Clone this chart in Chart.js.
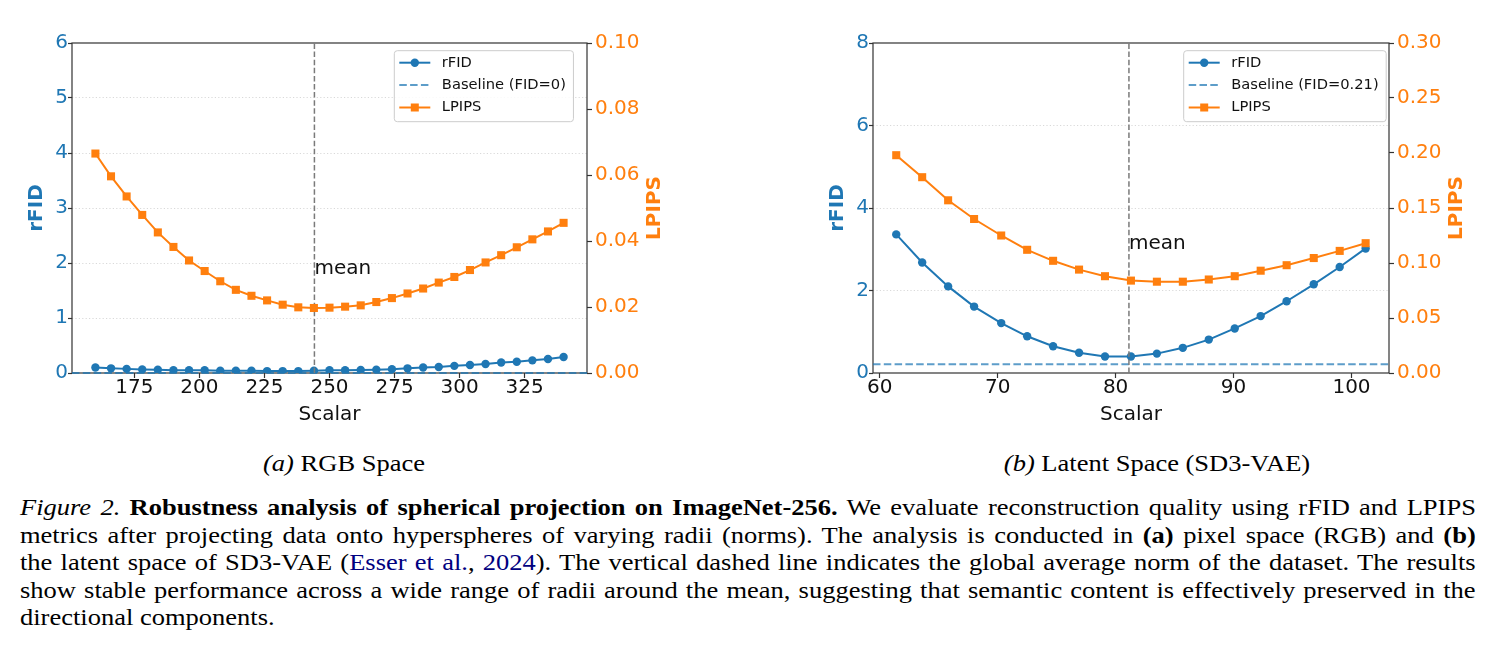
<!DOCTYPE html>
<html>
<head>
<meta charset="utf-8">
<script src="https://cdn.jsdelivr.net/npm/chart.js@4"></script>
<style>
html,body{margin:0;padding:0;background:#fff;}
body{width:1493px;height:665px;position:relative;overflow:hidden;}
canvas{position:absolute;top:0;}
#c1{left:0;}
#c2{left:801px;}
.sub{position:absolute;top:449.5px;font-family:'Liberation Serif',serif;font-size:23px;line-height:27.5px;white-space:nowrap;color:#000;transform-origin:center top;transform:translateX(-50%) scaleX(1.152);}
#cap{position:absolute;left:20px;top:494px;width:1263.9px;font-family:'Liberation Serif',serif;font-size:23px;line-height:27.5px;color:#000;transform-origin:left top;transform:scaleX(1.152);}
#cap .ln{white-space:nowrap;height:27.5px;}
#cap .ln > span{display:inline-block;}
.cite{color:#000080;}
</style>
</head>
<body>
<canvas id="c1" width="747" height="440"></canvas>
<canvas id="c2" width="692" height="440"></canvas>
<div class="sub" style="left:344px"><i>(a)</i> RGB Space</div>
<div class="sub" style="left:1157px"><i>(b)</i> Latent Space (SD3-VAE)</div>
<div id="cap">
<div class="ln"><span><i>Figure 2.</i> <b>Robustness analysis of spherical projection on ImageNet-256.</b> We evaluate reconstruction quality using rFID and LPIPS</span></div>
<div class="ln"><span>metrics after projecting data onto hyperspheres of varying radii (norms). The analysis is conducted in <b>(a)</b> pixel space (RGB) and <b>(b)</b></span></div>
<div class="ln"><span>the latent space of SD3-VAE (<span class="cite">Esser et al.</span>, <span class="cite">2024</span>). The vertical dashed line indicates the global average norm of the dataset. The results</span></div>
<div class="ln"><span>show stable performance across a wide range of radii around the mean, suggesting that semantic content is effectively preserved in the</span></div>
<div class="ln last"><span>directional components.</span></div>
</div>
<script>
// ---------- DATA: (a) RGB space ----------
const scalarA = [160,166,172,178,184,190,196,202,208,214,220,226,232,238,244,250,256,262,268,274,280,286,292,298,304,310,316,322,328,334,340];
const rfidA   = [0.10,0.085,0.075,0.065,0.06,0.05,0.05,0.05,0.04,0.04,0.04,0.035,0.035,0.035,0.04,0.05,0.05,0.055,0.06,0.07,0.085,0.10,0.11,0.13,0.145,0.165,0.19,0.205,0.23,0.255,0.29];
const lpipsA  = [0.0665,0.0596,0.0535,0.0479,0.0426,0.0382,0.0341,0.0309,0.0278,0.0252,0.0234,0.0220,0.0207,0.0199,0.0197,0.0198,0.0201,0.0205,0.0215,0.0227,0.0241,0.0256,0.0274,0.0291,0.0312,0.0335,0.0357,0.0381,0.0405,0.0429,0.0455];
const baselineA = 0;
const meanA = 244.2;
const meanLabelYA = 1.8;
const xTicksA = [175,200,225,250,275,300,325];
const yTicksA = [0,1,2,3,4,5,6];
const y2TicksA = [0,0.02,0.04,0.06,0.08,0.10];
const xRangeA = [151,349];
const yRangeA = [0,6];
const y2RangeA = [0,0.10];
const legendA = ['rFID','Baseline (FID=0)','LPIPS'];

// ---------- DATA: (b) Latent space ----------
const scalarB = [61.4,63.6,65.8,68.0,70.3,72.5,74.7,76.9,79.1,81.3,83.5,85.7,87.9,90.1,92.3,94.5,96.8,99.0,101.2];
const rfidB   = [3.36,2.68,2.10,1.61,1.21,0.89,0.65,0.49,0.40,0.40,0.47,0.61,0.81,1.08,1.38,1.74,2.15,2.57,3.02];
const lpipsB  = [0.198,0.178,0.157,0.140,0.125,0.112,0.102,0.094,0.088,0.084,0.083,0.083,0.085,0.088,0.093,0.098,0.1045,0.111,0.118];
const baselineB = 0.21;
const meanB = 81.13;
const meanLabelYB = 3.0;
const xTicksB = [60,70,80,90,100];
const yTicksB = [0,2,4,6,8];
const y2TicksB = [0,0.05,0.10,0.15,0.20,0.25,0.30];
const xRangeB = [59.43,103.18];
const yRangeB = [0,8];
const y2RangeB = [0,0.30];
const legendB = ['rFID','Baseline (FID=0.21)','LPIPS'];

// ---------- STYLE ----------
const BLUE = '#1f77b4';
const ORANGE = '#ff7f0e';
const BASE_COL = 'rgba(31,119,180,0.72)';
const FONT = 'DejaVu Sans';

// justify caption lines
(function(){
  const target = 1263.9;
  document.querySelectorAll('#cap .ln').forEach(ln => {
    if (ln.classList.contains('last')) return;
    const sp = ln.firstElementChild;
    const w = sp.offsetWidth;
    const n = sp.textContent.trim().split(/\s+/).length - 1;
    sp.style.wordSpacing = ((target - w) / n) + 'px';
  });
})();

function build(id, d) {
  const deco = {
    id: 'deco_' + id,
    beforeDatasetsDraw(chart) {
      const {ctx, chartArea: ca} = chart;
      ctx.save();
      ctx.strokeStyle = '#333';
      ctx.lineWidth = 1.2;
      ctx.strokeRect(ca.left, ca.top, ca.right - ca.left, ca.bottom - ca.top);
      ctx.restore();
    },
    afterDatasetsDraw(chart) {
      const {ctx, chartArea: ca, scales} = chart;
      // mean label
      ctx.save();
      ctx.font = '20px "' + FONT + '"';
      ctx.fillStyle = '#111';
      ctx.textAlign = 'left';
      ctx.textBaseline = 'alphabetic';
      ctx.fillText('mean', scales.x.getPixelForValue(d.mean), scales.y.getPixelForValue(d.meanLabelY));
      ctx.restore();
      // right axis title
      ctx.save();
      ctx.translate(ca.right + 68, (ca.top + ca.bottom) / 2);
      ctx.rotate(-Math.PI / 2);
      ctx.font = 'bold 20px "' + FONT + '"';
      ctx.fillStyle = ORANGE;
      ctx.textAlign = 'center';
      ctx.textBaseline = 'middle';
      ctx.fillText('LPIPS', 0, 0);
      ctx.restore();
      // legend
      ctx.save();
      ctx.font = '14.7px "' + FONT + '"';
      const tw = Math.max(...d.legend.map(t => ctx.measureText(t).width));
      const x0 = ca.left + d.legendDx, y0 = ca.top + 7.7;
      const w = 47.5 + tw + 7.5, h = 71, r = 3;
      ctx.beginPath();
      ctx.moveTo(x0 + r, y0);
      ctx.arcTo(x0 + w, y0, x0 + w, y0 + h, r);
      ctx.arcTo(x0 + w, y0 + h, x0, y0 + h, r);
      ctx.arcTo(x0, y0 + h, x0, y0, r);
      ctx.arcTo(x0, y0, x0 + w, y0, r);
      ctx.closePath();
      ctx.fillStyle = 'rgba(255,255,255,0.85)';
      ctx.fill();
      ctx.strokeStyle = '#cccccc';
      ctx.lineWidth = 1;
      ctx.stroke();
      const rows = [12, 34.3, 56.8];
      const hx0 = x0 + 5, hx1 = x0 + 36, hm = x0 + 20.5;
      rows.forEach((ry, i) => {
        const y = y0 + ry;
        ctx.beginPath();
        ctx.lineWidth = 2;
        if (i === 0) { ctx.strokeStyle = BLUE; ctx.setLineDash([]); }
        else if (i === 1) { ctx.strokeStyle = BASE_COL; ctx.setLineDash([7.5, 3.3]); }
        else { ctx.strokeStyle = ORANGE; ctx.setLineDash([]); }
        ctx.moveTo(hx0, y); ctx.lineTo(hx1, y); ctx.stroke();
        ctx.setLineDash([]);
        if (i === 0) { ctx.fillStyle = BLUE; ctx.beginPath(); ctx.arc(hm, y, 4.2, 0, Math.PI * 2); ctx.fill(); }
        if (i === 2) { ctx.fillStyle = ORANGE; ctx.fillRect(hm - 4, y - 4, 8, 8); }
        ctx.fillStyle = '#111';
        ctx.textAlign = 'left';
        ctx.textBaseline = 'middle';
        ctx.fillText(d.legend[i], x0 + 47.5, y);
      });
      ctx.restore();
    }
  };

  const tickFont = {family: FONT, size: 20, lineHeight: 1};
  new Chart(document.getElementById(id), {
    type: 'line',
    data: {
      datasets: [
        {label: 'LPIPS', data: d.xs.map((x, i) => ({x, y: d.lpips[i]})), yAxisID: 'y2',
         borderColor: ORANGE, backgroundColor: ORANGE, borderWidth: 2, tension: 0,
         pointStyle: 'rect', pointRadius: 5.7, pointBorderWidth: 0, pointBackgroundColor: ORANGE, order: 0},
        {label: 'mean', data: [{x: d.mean, y: d.yRange[0]}, {x: d.mean, y: d.yRange[1]}], yAxisID: 'y',
         borderColor: '#7a7a7a', borderWidth: 1.5, borderDash: [5.5, 2.6], pointRadius: 0, order: 1},
        {label: 'Baseline', data: [{x: d.xRange[0], y: d.baseline}, {x: d.xRange[1], y: d.baseline}], yAxisID: 'y',
         borderColor: BASE_COL, borderWidth: 2, borderDash: [7.5, 3.3], pointRadius: 0, order: 2, clip: false},
        {label: 'rFID', data: d.xs.map((x, i) => ({x, y: d.rfid[i]})), yAxisID: 'y',
         borderColor: BLUE, backgroundColor: BLUE, borderWidth: 2, tension: 0,
         pointStyle: 'circle', pointRadius: 4.2, pointBorderWidth: 0, pointBackgroundColor: BLUE, order: 3}
      ]
    },
    options: {
      responsive: false, animation: false, devicePixelRatio: 1, events: [],
      layout: {padding: {top: 43, left: 0, right: 0, bottom: 0}},
      plugins: {legend: {display: false}, tooltip: {enabled: false}},
      scales: {
        x: {
          type: 'linear', position: 'bottom', min: d.xRange[0], max: d.xRange[1],
          afterFit: s => { s.height = 67; },
          afterBuildTicks: s => { s.ticks = d.xTicks.map(v => ({value: v})); },
          ticks: {autoSkip: false, maxRotation: 0, minRotation: 0, color: '#111', font: tickFont, padding: 0, callback: v => String(v)},
          grid: {drawOnChartArea: false, drawTicks: true, tickLength: 5, tickColor: '#333', tickWidth: 1.2},
          border: {display: false},
          title: {display: true, text: 'Scalar', color: '#111', font: {family: FONT, size: 20, lineHeight: 1.2}, padding: {top: 0, bottom: 13}}
        },
        y: {
          type: 'linear', position: 'left', min: d.yRange[0], max: d.yRange[1],
          afterFit: s => { s.width = 72; },
          afterBuildTicks: s => { s.ticks = d.yTicks.map(v => ({value: v})); },
          ticks: {color: BLUE, font: tickFont, padding: 0, callback: v => String(v)},
          grid: {drawOnChartArea: true, drawTicks: true, tickLength: 4, tickColor: '#333', tickWidth: 1.2, tickBorderDash: [], lineWidth: 0.8,
                 color: c => (c.tick && (c.tick.value === d.yRange[0] || c.tick.value === d.yRange[1])) ? 'rgba(0,0,0,0)' : '#cfcfcf'},
          border: {display: false, dash: [1.2, 2.2]},
          title: {display: true, text: 'rFID', color: BLUE, font: {family: FONT, size: 20, weight: 'bold', lineHeight: 1.2}, padding: {top: 25, bottom: 0}}
        },
        y2: {
          type: 'linear', position: 'right', min: d.y2Range[0], max: d.y2Range[1],
          afterFit: s => { s.width = d.rightW; },
          afterBuildTicks: s => { s.ticks = d.y2Ticks.map(v => ({value: v})); },
          ticks: {color: ORANGE, font: tickFont, padding: 3, callback: v => Number(v).toFixed(2)},
          grid: {drawOnChartArea: false, drawTicks: true, tickLength: 5, tickColor: '#333', tickWidth: 1.2},
          border: {display: false}
        }
      }
    },
    plugins: [deco]
  });
}

build('c1', {xs: scalarA, rfid: rfidA, lpips: lpipsA, baseline: baselineA, mean: meanA, meanLabelY: meanLabelYA,
  xTicks: xTicksA, yTicks: yTicksA, y2Ticks: y2TicksA, xRange: xRangeA, yRange: yRangeA, y2Range: y2RangeA,
  legend: legendA, legendDx: 322.3, rightW: 160});
build('c2', {xs: scalarB, rfid: rfidB, lpips: lpipsB, baseline: baselineB, mean: meanB, meanLabelY: meanLabelYB,
  xTicks: xTicksB, yTicks: yTicksB, y2Ticks: y2TicksB, xRange: xRangeB, yRange: yRangeB, y2Range: y2RangeB,
  legend: legendB, legendDx: 310.7, rightW: 104});
</script>
</body>
</html>
